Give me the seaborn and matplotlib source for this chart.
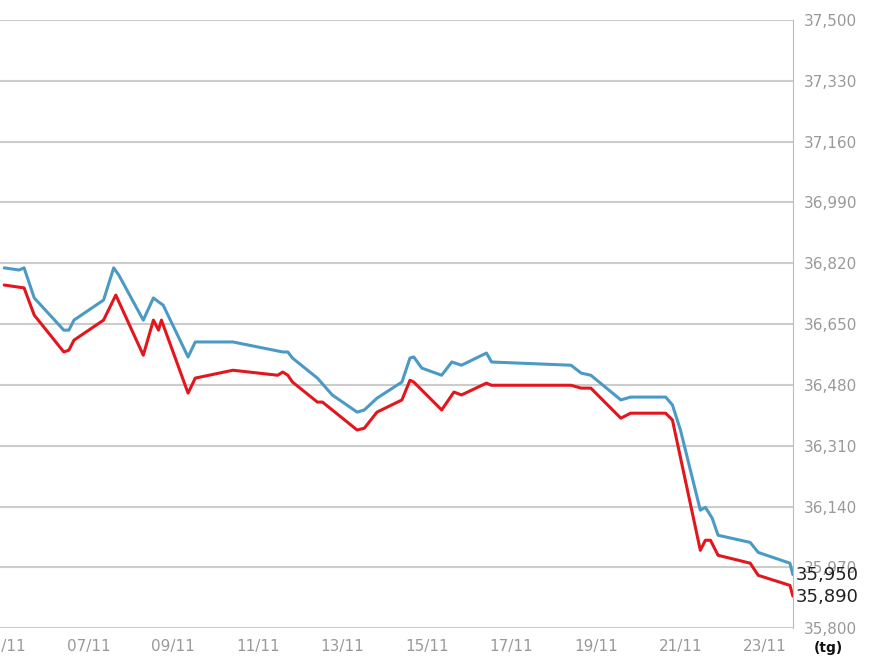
import matplotlib
matplotlib.use("Agg")
import matplotlib.pyplot as plt
import seaborn as sns
import pandas as pd

# day of November (fractional) and price
blue_x = [5.0, 5.35, 5.47, 5.71, 6.41, 6.53, 6.65, 7.35, 7.59, 7.71, 8.29, 8.53, 8.65, 8.76, 9.35, 9.52,
          10.41, 11.59, 11.71, 11.82, 12.41, 12.76, 13.35, 13.52, 13.82, 14.41, 14.6, 14.69, 14.88,
          15.35, 15.59, 15.82, 16.41, 16.53, 18.41, 18.65, 18.88, 19.59, 19.82, 20.65, 20.81, 21.0,
          21.47, 21.59, 21.75, 21.89, 22.65, 22.84, 23.59, 23.66]
blue_y = [36807, 36801, 36807, 36723, 36633, 36633, 36661, 36717, 36807, 36787, 36661, 36723, 36712,
          36703, 36558, 36600, 36600, 36572, 36572, 36555, 36499, 36452, 36404, 36410, 36443, 36488,
          36555, 36558, 36527, 36507, 36544, 36535, 36569, 36544, 36535, 36513, 36507, 36438, 36446,
          36446, 36424, 36354, 36130, 36138, 36108, 36060, 36040, 36012, 35982, 35950]
red_x = [5.0, 5.47, 5.71, 6.41, 6.53, 6.65, 7.35, 7.64, 8.29, 8.53, 8.65, 8.72, 9.35, 9.52, 10.41,
         11.47, 11.59, 11.71, 11.82, 12.41, 12.53, 13.35, 13.52, 13.82, 14.41, 14.6, 14.69, 15.35,
         15.64, 15.82, 16.41, 16.53, 18.41, 18.65, 18.88, 19.59, 19.82, 20.65, 20.81, 21.47, 21.59,
         21.71, 21.89, 22.65, 22.84, 23.59, 23.66]
red_y = [36759, 36751, 36675, 36572, 36577, 36605, 36661, 36731, 36563, 36661, 36633, 36661, 36457,
         36499, 36521, 36507, 36516, 36507, 36488, 36432, 36432, 36354, 36359, 36404, 36438, 36493,
         36488, 36410, 36460, 36452, 36485, 36479, 36479, 36471, 36471, 36387, 36401, 36401, 36382,
         36018, 36046, 36046, 36004, 35982, 35948, 35920, 35890]
y_ticks = [35800, 35970, 36140, 36310, 36480, 36650, 36820, 36990, 37160, 37330, 37500]
x_ticks = [5, 7, 9, 11, 13, 15, 17, 19, 21, 23]
x_labels = ["05/11", "07/11", "09/11", "11/11", "13/11", "15/11", "17/11", "19/11", "21/11", "23/11"]
last_labels = ["35,950", "35,890"]

df = pd.concat([pd.DataFrame({"day": blue_x, "price": blue_y, "s": "blue"}),
                pd.DataFrame({"day": red_x, "price": red_y, "s": "red"})])

sns.set_style("white")
fig = plt.figure(figsize=(8.8, 6.6), dpi=100)
ax = fig.add_axes([0.0, 0.048, 0.901, 0.922])
sns.lineplot(data=df, x="day", y="price", hue="s", palette={"blue": "#4b9ac6", "red": "#e3161d"},
             linewidth=2.2, legend=False, ax=ax, estimator=None, sort=False)
ax.set_xlim(4.9, 23.66)
ax.set_ylim(35800, 37500)
ax.yaxis.tick_right()
ax.set_yticks(y_ticks, labels=[f"{v:,}" for v in y_ticks])
ax.set_xticks(x_ticks, labels=x_labels)
ax.tick_params(colors="#999999", labelsize=11, length=0, pad=8)
ax.grid(axis="y", color="#cccccc", linewidth=1.5)
for s in ["top", "left", "bottom"]:
    ax.spines[s].set_visible(False)
ax.spines["right"].set_color("#bbbbbb")
ax.set_xlabel("")
ax.set_ylabel("")
ax.text(1.003, 0.088, last_labels[0], transform=ax.transAxes, fontsize=13, color="#222222", va="center")
ax.text(1.003, 0.052, last_labels[1], transform=ax.transAxes, fontsize=13, color="#222222", va="center")
fig.text(0.925, 0.012, "(tg)", fontsize=10, fontweight="bold", color="#111111")
fig.savefig("out.png", dpi=100)
